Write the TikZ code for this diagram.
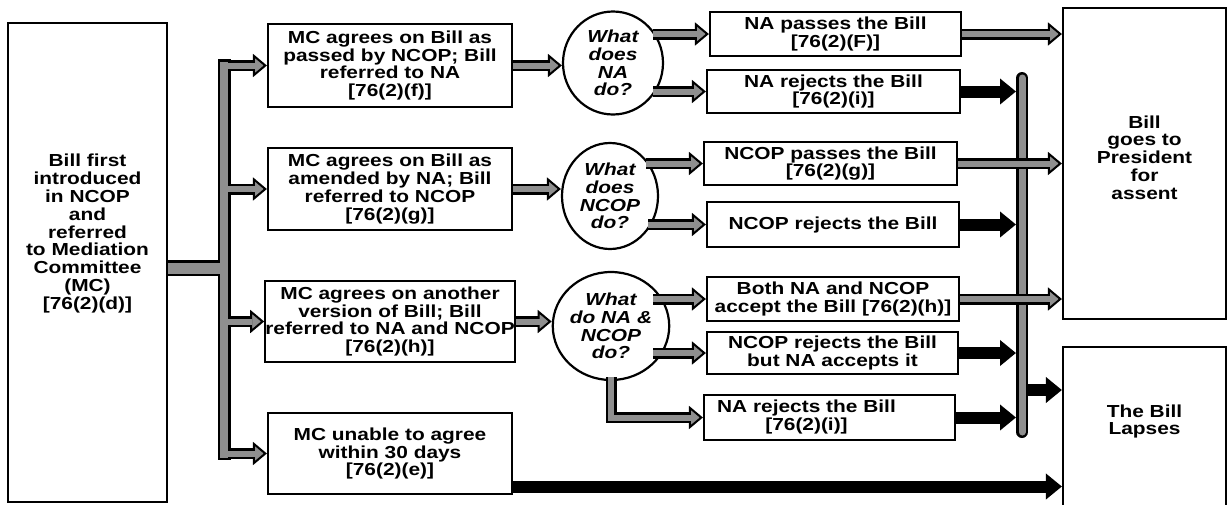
\documentclass[tikz,border=0pt]{standalone}
\usepackage{fontspec}
\setmainfont{Liberation Sans}[FakeStretch=1.2]
\usetikzlibrary{arrows.meta,calc,shapes.geometric}
\definecolor{hg}{gray}{0.56}
\begin{document}
\begin{tikzpicture}[x=1pt,y=-1pt,
  txt/.style={align=center, inner sep=0pt, font=\bfseries\fontsize{17.4}{17.8}\selectfont},
  box/.style={txt, draw, line width=2.2pt},
  qcirc/.style={ellipse, draw, line width=2.2pt, align=center, inner sep=0pt, font=\bfseries\itshape\fontsize{17.4}{17.8}\selectfont},
  hatch/.style={draw=black, line width=11pt, -{Triangle[length=14pt,width=23pt,line width=2pt,fill=hg]}, postaction={draw=hg, line width=6pt, -, shorten >=12pt}},
  blk/.style={draw=black, line width=12pt, -{Triangle[length=16pt,width=25pt]}},
]
\useasboundingbox (0,0) rectangle (1228,504);
% first column
\node[box, minimum width=159pt, minimum height=479pt] (src) at (87.5,262.5) {};
\node[txt] (srct) at ([yshift=29pt]src.center) {Bill first\\introduced\\in NCOP\\and\\referred\\to Mediation\\Committee\\(MC)\\{}[76(2)(d)]};
% MC boxes
\node[box, minimum width=244pt, minimum height=83pt] (mc1) at (390,65.5) {MC agrees on Bill as\\passed by NCOP; Bill\\referred to NA\\{}[76(2)(f)]};
\node[box, minimum width=244pt, minimum height=82pt] (mc2) at (390,189) {MC agrees on Bill as\\amended by NA; Bill\\referred to NCOP\\{}[76(2)(g)]};
\node[box, minimum width=244pt, minimum height=81pt] (mc3) at (390,321.5) {MC agrees on another\\version of Bill; Bill\\referred to NA and NCOP\\{}[76(2)(h)]};
\node[box, minimum width=244pt, minimum height=81pt] (mc4) at (390,453.5) {MC unable to agree\\within 30 days\\{}[76(2)(e)]};
% circles
\node[qcirc, minimum width=100pt, minimum height=103pt] (c1) at (613,63) {What\\does\\NA\\do?};
\node[qcirc, minimum width=96pt, minimum height=106pt] (c2) at (610,196) {What\\does\\NCOP\\do?};
\node[qcirc, minimum width=102pt, minimum height=108pt] (c3) at (611,326) {What\\do NA \&\\NCOP\\do?};
% outcome boxes
\node[box, minimum width=251pt, minimum height=44pt] (r1) at (835.5,34) {NA passes the Bill\\{}[76(2)(F)]};
\node[box, minimum width=253pt, minimum height=43pt] (r2) at (833.5,91.5) {NA rejects the Bill\\{}[76(2)(i)]};
\node[box, minimum width=253pt, minimum height=43pt] (r3) at (830.5,163.5) {NCOP passes the Bill\\{}[76(2)(g)]};
\node[box, minimum width=252pt, minimum height=45pt] (r4) at (833,224.5) {NCOP rejects the Bill};
\node[box, minimum width=252pt, minimum height=44pt] (r5) at (833,299) {Both NA and NCOP\\accept the Bill [76(2)(h)]};
\node[box, minimum width=251pt, minimum height=42pt] (r6) at (832.5,353) {NCOP rejects the Bill\\but NA accepts it};
\node[box, minimum width=251pt, minimum height=45pt] (r7) at (829.5,417.5) {\begin{tabular}{@{}c@{\hspace{46pt}}}NA rejects the Bill\\{}[76(2)(i)]\end{tabular}};
% final boxes
\node[box, minimum width=163pt, minimum height=311pt] (pres) at (1144.5,163.5) {};
\node[txt] (prest) at ([yshift=6pt]pres.center) {Bill\\goes to\\President\\for\\assent};
\node[box, minimum width=163pt, minimum height=163pt] (lapse) at (1144.5,428.5) {};
\node[txt] (lapset) at ([yshift=7pt]lapse.center) {The Bill\\Lapses};
% left trunk
\coordinate (j) at (224,268);
\coordinate (lt) at (mc1.west -| j);
\coordinate (lb) at (mc4.west -| j);
\draw[line width=13pt, line cap=rect] (lt) -- (lb);
\foreach \m in {mc1,mc2,mc3,mc4} \draw[hatch] (\m.west -| j) -- (\m.west);
\draw[line width=16pt] (src.east |- j) -- (j);
\draw[hg, line width=11pt] (src.east |- j) -- (j);
\draw[hg, line width=8pt, line cap=rect] (lt) -- (lb);
% MC to circles
\draw[hatch] (mc1.east) -- (mc1.east -| c1.west);
\draw[hatch] (mc2.east) -- (mc2.east -| c2.west);
\draw[hatch] (mc3.east) -- (mc3.east -| c3.west);
% circles to outcomes
\draw[hatch] ([xshift=40pt]r1.west -| c1.center) -- (r1.west);
\draw[hatch] ([xshift=40pt]r2.west -| c1.center) -- (r2.west);
\draw[hatch] ([xshift=36pt]r3.west -| c2.center) -- (r3.west);
\draw[hatch] ([xshift=38pt]r4.west -| c2.center) -- (r4.west);
\draw[hatch] ([xshift=42pt]r5.west -| c3.center) -- (r5.west);
\draw[hatch] ([xshift=42pt]r6.west -| c3.center) -- (r6.west);
\draw[hatch] ([yshift=4pt]c3.south) -- (c3.south |- r7.west) -- (r7.west);
% right bar
\coordinate (rt) at (1022,78);
\coordinate (rb) at (1022,432);
\draw[line width=12pt, line cap=round] (rt) -- (rb);
\draw[hg, line width=7pt, line cap=round] (rt) -- (rb);
\foreach \r in {r2,r4,r6,r7} \draw[blk] (\r.east) -- ([xshift=-6pt]\r.east -| rt);
\draw[hatch] (r1.east) -- (r1.east -| pres.west);
\draw[hatch] (r3.east) -- (r3.east -| pres.west);
\draw[hatch] (r5.east) -- (r5.east -| pres.west);
\coordinate (rl) at (1028,390);
\draw[blk] (rl) -- (rl -| lapse.west);
\draw[blk] ([yshift=-33pt]mc4.east) -- ([yshift=-33pt]mc4.east -| lapse.west);
\end{tikzpicture}
\end{document}
